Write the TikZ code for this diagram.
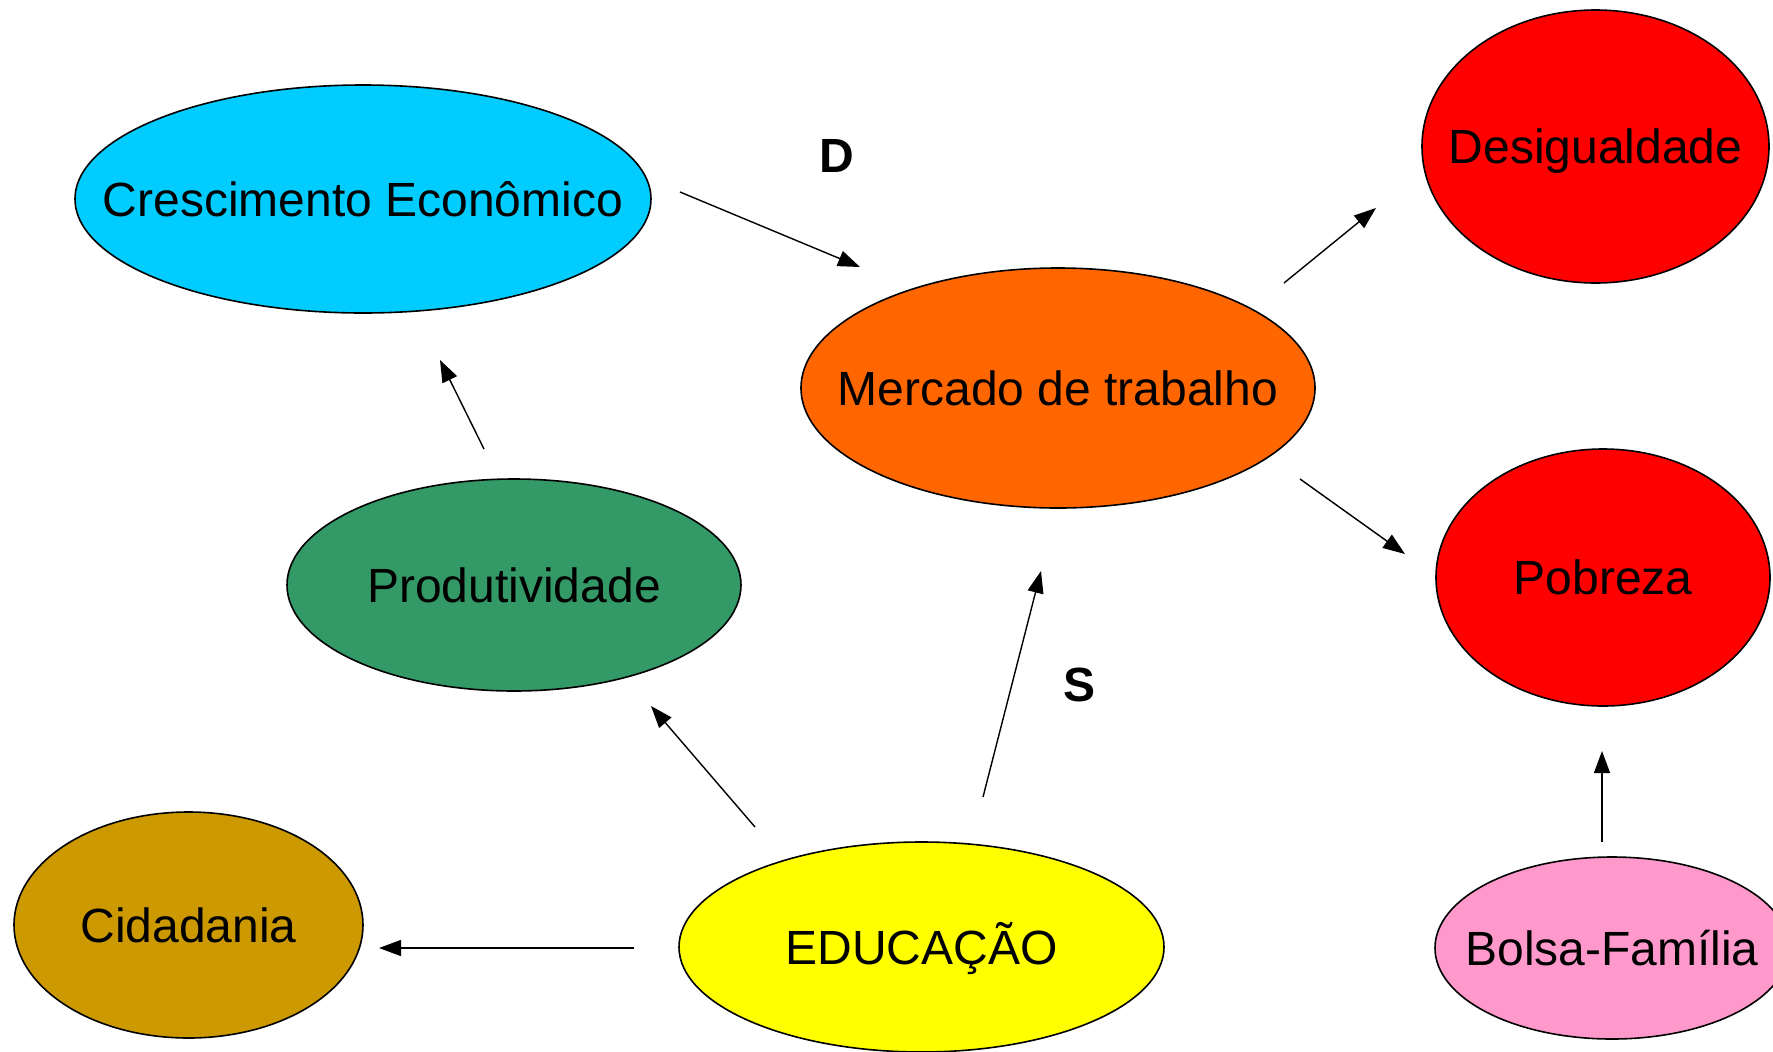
\documentclass[tikz,border=0pt]{standalone}
\usepackage{fontspec}
\setmainfont{Liberation Sans}
\usetikzlibrary{shapes.geometric,arrows.meta}
\definecolor{ccyan}{HTML}{00CCFF}
\definecolor{corange}{HTML}{FF6600}
\definecolor{cred}{HTML}{FF0000}
\definecolor{cgreen}{HTML}{339966}
\definecolor{colive}{HTML}{CC9900}
\definecolor{cyellow}{HTML}{FFFF00}
\definecolor{cpink}{HTML}{FF99CC}
\tikzset{
  bubble/.style={ellipse, draw=black, line width=0.8pt, inner sep=0pt},
  txt/.style={inner sep=0pt, anchor=base, yshift=-8.6pt, font=\fontsize{24}{28}\selectfont},
  arr/.style={line width=0.7pt, -{Triangle[length=11pt,width=8pt]}},
  lbl/.style={font=\fontsize{24}{28}\selectfont\bfseries}
}
\begin{document}
\begin{tikzpicture}[x=0.5pt,y=-0.5pt]
\useasboundingbox (0,0) rectangle (1773,1051);
\clip (0,0) rectangle (1773,1051);
\node[bubble, fill=ccyan, minimum width=288pt, minimum height=114pt] (crec) at (363,199) {};
\node[txt] (crect) at (crec.center) {Crescimento Econômico};
\node[bubble, fill=corange, minimum width=257pt, minimum height=120pt] (merc) at (1058,388) {};
\node[txt] (merct) at (merc.center) {Mercado de trabalho};
\node[bubble, fill=cred, minimum width=173.5pt, minimum height=136.5pt] (desig) at (1595.5,146.5) {};
\node[txt] (desigt) at (desig.center) {Desigualdade};
\node[bubble, fill=cred, minimum width=167pt, minimum height=128.5pt] (pobr) at (1603,577.5) {};
\node[txt] (pobrt) at (pobr.center) {Pobreza};
\node[bubble, fill=cgreen, minimum width=227pt, minimum height=106pt] (prod) at (514,585) {};
\node[txt] (prodt) at (prod.center) {Produtividade};
\node[bubble, fill=colive, minimum width=174.5pt, minimum height=113pt] (cid) at (188.5,925) {};
\node[txt] (cidt) at (cid.center) {Cidadania};
\node[bubble, fill=cyellow, minimum width=242.5pt, minimum height=105pt] (edu) at (921.5,947) {};
\node[txt] (edut) at (edu.center) {EDUCAÇÃO};
\node[bubble, fill=cpink, minimum width=177pt, minimum height=91pt] (bolsa) at (1612,948) {};
\node[txt] (bolsat) at (bolsa.center) {Bolsa-Família};

\node[lbl] (D) at (837,156) {D};
\node[lbl] (S) at (1079,685) {S};

\coordinate (c1s) at (680,192);  \coordinate (c1e) at (860,267);
\coordinate (c2s) at (1284,283); \coordinate (c2e) at (1376,208);
\coordinate (c3s) at (1300,479); \coordinate (c3e) at (1405,554);
\coordinate (c4s) at (484,449);  \coordinate (c4e) at (440,360);
\coordinate (c5s) at (755,827);  \coordinate (c5e) at (651,706);
\coordinate (c6s) at (983,797);  \coordinate (c6e) at (1041,571);
\coordinate (c7s) at (634,948);  \coordinate (c7e) at (379,948);
\coordinate (c8s) at (1602,842); \coordinate (c8e) at (1602,751);

\draw[arr] (c1s) -- (c1e);
\draw[arr] (c2s) -- (c2e);
\draw[arr] (c3s) -- (c3e);
\draw[arr] (c4s) -- (c4e);
\draw[arr] (c5s) -- (c5e);
\draw[arr] (c6s) -- (c6e);
\draw[arr] (c7s) -- (c7e);
\draw[arr] (c8s) -- (c8e);
\end{tikzpicture}
\end{document}
